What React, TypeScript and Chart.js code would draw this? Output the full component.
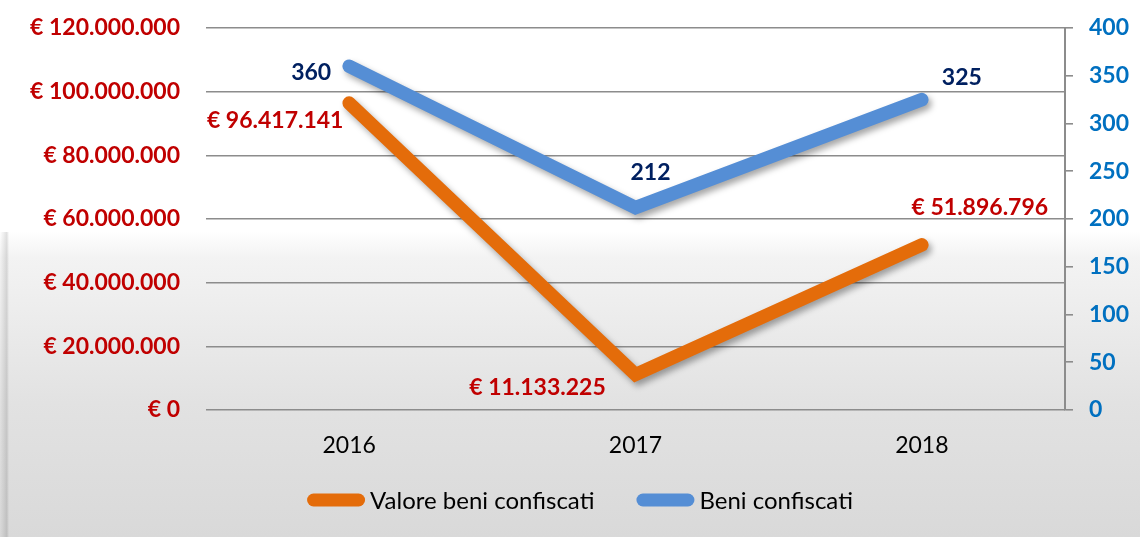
import React, { useEffect, useRef } from 'react';
import { Chart, registerables } from 'chart.js';

Chart.register(...registerables);

const categories = ['2016', '2017', '2018'];
const valoreBeni = [96417141, 11133225, 51896796];
const beniConfiscati = [360, 212, 325];
const seriesNames = ['Valore beni confiscati', 'Beni confiscati'];
const leftMax = 120000000;
const leftStep = 20000000;
const rightMax = 400;
const rightStep = 50;

const ORANGE = '#E46C0A';
const BLUE = '#558ED5';
const RED = '#C00000';
const NAVY = '#002060';
const AXIS_BLUE = '#0070C0';
const GRID = '#8c8c8c';
const FONT = 'Lato';

const fmt = (n: number) => String(Math.round(n)).replace(/\B(?=(\d{3})+(?!\d))/g, '.');
const euro = (n: number) => '€ ' + fmt(n);

const shadowPlugin = {
  id: 'lineShadow',
  beforeDatasetsDraw(chart: any) {
    const ctx = chart.ctx;
    ctx.save();
    ctx.shadowColor = 'rgba(0,0,0,0.35)';
    ctx.shadowBlur = 6;
    ctx.shadowOffsetX = 3;
    ctx.shadowOffsetY = 4;
  },
  afterDatasetsDraw(chart: any) {
    chart.ctx.restore();
  },
};

const labelPlugin = {
  id: 'pointLabels',
  afterDatasetsDraw(chart: any, _args: any, opts: any) {
    const ctx = chart.ctx;
    ctx.save();
    ctx.shadowColor = 'transparent';
    ctx.font = `bold 23px ${FONT}`;
    ctx.textAlign = 'center';
    ctx.textBaseline = 'middle';
    chart.data.datasets.forEach((ds: any, di: number) => {
      const meta = chart.getDatasetMeta(di);
      meta.data.forEach((pt: any, i: number) => {
        const off = opts.offsets[di][i];
        const v = ds.data[i];
        ctx.fillStyle = opts.colors[di];
        ctx.fillText(di === 0 ? euro(v) : String(v), pt.x + off[0], pt.y + off[1]);
      });
    });
    ctx.restore();
  },
};

const legendPlugin = {
  id: 'lineLegend',
  afterDraw(chart: any, _args: any, opts: any) {
    const ctx = chart.ctx;
    ctx.save();
    ctx.font = `24px ${FONT}`;
    const lineW = 58;
    const gap1 = 5;
    const gap2 = 42;
    const names: string[] = chart.data.datasets.map((d: any) => d.label);
    const widths = names.map((n) => ctx.measureText(n).width);
    const total = names.length * (lineW + gap1) + widths.reduce((a, b) => a + b, 0) + gap2 * (names.length - 1);
    let x = opts.centerX - total / 2;
    const y = opts.y;
    chart.data.datasets.forEach((ds: any, i: number) => {
      ctx.strokeStyle = ds.borderColor;
      ctx.lineWidth = 13;
      ctx.lineCap = 'round';
      ctx.beginPath();
      ctx.moveTo(x + 6.5, y);
      ctx.lineTo(x + lineW - 6.5, y);
      ctx.stroke();
      x += lineW + gap1;
      ctx.fillStyle = '#000000';
      ctx.textAlign = 'left';
      ctx.textBaseline = 'middle';
      ctx.fillText(names[i], x, y + 1);
      x += widths[i] + gap2;
    });
    ctx.restore();
  },
};

export default function App() {
  const ref = useRef<HTMLCanvasElement | null>(null);

  useEffect(() => {
    document.body.style.margin = '0';
    if (!ref.current) return;
    const chart = new Chart(ref.current, {
      type: 'line',
      data: {
        labels: categories,
        datasets: [
          {
            label: seriesNames[0],
            data: valoreBeni,
            yAxisID: 'y',
            borderColor: ORANGE,
            backgroundColor: ORANGE,
            borderWidth: 13.5,
            borderCapStyle: 'round',
            borderJoinStyle: 'miter',
            pointRadius: 0,
            tension: 0,
          },
          {
            label: seriesNames[1],
            data: beniConfiscati,
            yAxisID: 'y1',
            borderColor: BLUE,
            backgroundColor: BLUE,
            borderWidth: 13.5,
            borderCapStyle: 'round',
            borderJoinStyle: 'miter',
            pointRadius: 0,
            tension: 0,
          },
        ],
      },
      options: {
        responsive: false,
        animation: false,
        devicePixelRatio: 1,
        layout: { padding: { top: 28, bottom: 57, left: 0, right: 0 } },
        plugins: {
          legend: { display: false },
          tooltip: { enabled: false },
          pointLabels: {
            colors: [RED, NAVY],
            offsets: [
              [[-74, 18], [-98, 13], [58, -37]],
              [[-38, 6], [15, -35], [40, -22]],
            ],
          },
          lineLegend: { centerX: 580, y: 500 },
        } as any,
        scales: {
          x: {
            offset: true,
            grid: { display: false, drawTicks: false },
            border: { display: false },
            ticks: { color: '#000000', font: { family: FONT, size: 23 }, padding: 22 },
            afterFit: (s: any) => { s.height = 70; },
          },
          y: {
            position: 'left',
            min: 0,
            max: leftMax,
            ticks: {
              stepSize: leftStep,
              color: RED,
              font: { family: FONT, size: 23, weight: 'bold' },
              padding: 26,
              callback: (v: any) => euro(Number(v)),
            },
            grid: { color: GRID, lineWidth: 1.6, drawTicks: false },
            border: { display: false },
            afterFit: (s: any) => { s.width = 206; s.paddingTop = 14; s.paddingBottom = 14; },
          },
          y1: {
            position: 'right',
            min: 0,
            max: rightMax,
            ticks: {
              stepSize: rightStep,
              color: AXIS_BLUE,
              font: { family: FONT, size: 23, weight: 'bold' },
              padding: 16,
            },
            grid: { drawOnChartArea: false, color: GRID, lineWidth: 1.6, tickLength: 8 },
            border: { display: true, color: GRID, width: 2 },
            afterFit: (s: any) => { s.width = 75; s.paddingTop = 14; s.paddingBottom = 14; },
          },
        },
      },
      plugins: [shadowPlugin, labelPlugin, legendPlugin],
    } as any);
    return () => chart.destroy();
  }, []);

  return (
    <div
      style={{
        width: 1140,
        height: 537,
        position: 'relative',
        background:
          'linear-gradient(to bottom, #ffffff 0%, #ffffff 43%, #f3f3f3 48%, #e2e2e2 75%, #d9d9d9 100%)',
      }}
    >
      <div
        style={{
          position: 'absolute',
          left: 0,
          top: 232,
          width: 9,
          height: 305,
          background:
            'linear-gradient(to right, rgba(0,0,0,0) 0%, rgba(0,0,0,0.07) 45%, rgba(0,0,0,0.12) 75%, rgba(0,0,0,0) 100%)',
        }}
      />
      <canvas
        ref={ref}
        width={1140}
        height={537}
        style={{ display: 'block', position: 'relative' }}
      />
    </div>
  );
}
